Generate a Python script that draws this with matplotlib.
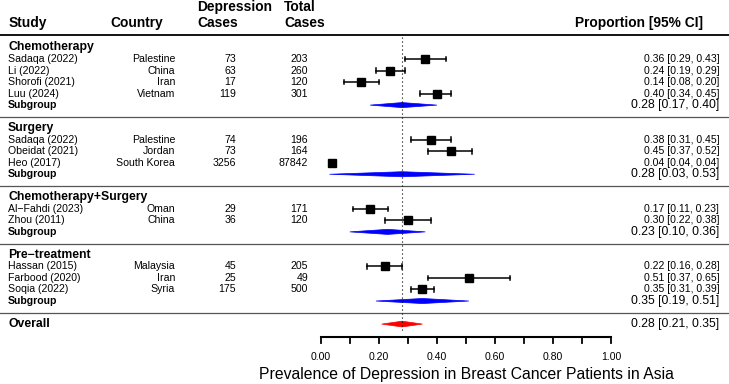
import numpy as np
import matplotlib.pyplot as plt
from matplotlib.patches import Polygon

plt.rcParams['font.family'] = ['Liberation Sans', 'DejaVu Sans']

# Datos del forest plot
grupos = ['Chemotherapy', 'Surgery', 'Chemotherapy+Surgery', 'Pre\u2212treatment']
n_por_grupo = [4, 3, 2, 3]
estudios = ['Sadaqa (2022)', 'Li (2022)', 'Shorofi (2021)', 'Luu (2024)',
            'Sadaqa (2022)', 'Obeidat (2021)', 'Heo (2017)',
            'Al\u2212Fahdi (2023)', 'Zhou (2011)',
            'Hassan (2015)', 'Farbood (2020)', 'Soqia (2022)']
paises = ['Palestine', 'China', 'Iran', 'Vietnam',
          'Palestine', 'Jordan', 'South Korea',
          'Oman', 'China',
          'Malaysia', 'Iran', 'Syria']
casos = [73, 63, 17, 119, 74, 73, 3256, 29, 36, 45, 25, 175]
totales = [203, 260, 120, 301, 196, 164, 87842, 171, 120, 205, 49, 500]
est = [0.36, 0.24, 0.14, 0.40, 0.38, 0.45, 0.04, 0.17, 0.30, 0.22, 0.51, 0.35]
lo = [0.29, 0.19, 0.08, 0.34, 0.31, 0.37, 0.04, 0.11, 0.22, 0.16, 0.37, 0.31]
hi = [0.43, 0.29, 0.20, 0.45, 0.45, 0.52, 0.04, 0.23, 0.38, 0.28, 0.65, 0.39]
sub_est = [0.28, 0.28, 0.23, 0.35]
sub_lo = [0.17, 0.03, 0.10, 0.19]
sub_hi = [0.40, 0.53, 0.36, 0.51]
overall = (0.28, 0.21, 0.35)

fig = plt.figure(figsize=(7.29, 3.84), dpi=100)
ax = fig.add_axes([0, 0, 1, 1])
ax.axis('off')
ax.set_xlim(-1.105, 1.406)
ax.set_ylim(29.2, -4.12)

# columnas (en unidades del eje x)
x_study = -1.077
x_country = -0.502
x_cases = -0.292
x_total = -0.044
x_prop = 1.372

fs = 7.6
fs_head = 9.9
fs_group = 8.8
fs_sum = 8.7


def diamante(c, l, h, y, color, hh=0.22):
    ax.add_patch(Polygon([(l, y), (c, y - hh), (h, y), (c, y + hh)],
                         closed=True, facecolor=color, edgecolor=color, lw=0.5))


# encabezados
ax.text(x_study, -2.13, 'Study', fontsize=fs_head, fontweight='bold', va='center')
ax.text(-0.726, -2.13, 'Country', fontsize=fs_head, fontweight='bold', va='center')
ax.text(-0.426, -3.52, 'Depression', fontsize=fs_head, fontweight='bold', va='center')
ax.text(-0.426, -2.13, 'Cases', fontsize=fs_head, fontweight='bold', va='center')
ax.text(-0.126, -3.52, 'Total', fontsize=fs_head, fontweight='bold', va='center')
ax.text(-0.126, -2.13, 'Cases', fontsize=fs_head, fontweight='bold', va='center')
ax.text(1.317, -2.13, 'Proportion [95% CI]', fontsize=fs_head, fontweight='bold',
        va='center', ha='right')
ax.plot([-1.105, 1.406], [-1.08, -1.08], color='black', lw=1.3, solid_capstyle='butt')

fila = 0
k = 0
for g, nombre in enumerate(grupos):
    ax.text(x_study, fila, nombre, fontsize=fs_group, fontweight='bold', va='center')
    for j in range(n_por_grupo[g]):
        y = fila + 1 + j
        ax.text(x_study, y, estudios[k], fontsize=fs, va='center')
        ax.text(x_country, y, paises[k], fontsize=fs, va='center', ha='right')
        ax.text(x_cases, y, str(casos[k]), fontsize=fs, va='center', ha='right')
        ax.text(x_total, y, str(totales[k]), fontsize=fs, va='center', ha='right')
        ax.text(x_prop, y, f'{est[k]:.2f} [{lo[k]:.2f}, {hi[k]:.2f}]',
                fontsize=fs, va='center', ha='right')
        if hi[k] > lo[k]:
            ax.plot([lo[k], hi[k]], [y, y], color='black', lw=1.1)
            ax.plot([lo[k], lo[k]], [y - 0.2, y + 0.2], color='black', lw=1.1)
            ax.plot([hi[k], hi[k]], [y - 0.2, y + 0.2], color='black', lw=1.1)
        ax.plot(est[k], y, marker='s', color='black', markersize=5.6, ls='none')
        k += 1
    ys = fila + n_por_grupo[g] + 1
    ax.text(x_study, ys, 'Subgroup', fontsize=fs, fontweight='bold', va='center')
    diamante(sub_est[g], sub_lo[g], sub_hi[g], ys, '#0000ff')
    ax.text(x_prop, ys, f'{sub_est[g]:.2f} [{sub_lo[g]:.2f}, {sub_hi[g]:.2f}]',
            fontsize=fs_sum, va='center', ha='right')
    sep = ys + 1.03
    ax.plot([-1.105, 1.406], [sep, sep], color='#555555', lw=0.9)
    fila = ys + 2

# total
y_ov = fila
ax.text(x_study, y_ov, 'Overall', fontsize=fs_group, fontweight='bold', va='center')
diamante(overall[0], overall[1], overall[2], y_ov, '#ff0000', hh=0.25)
ax.text(x_prop, y_ov, f'{overall[0]:.2f} [{overall[1]:.2f}, {overall[2]:.2f}]',
        fontsize=fs_sum, va='center', ha='right')

# linea punteada en el efecto global
ax.plot([overall[0], overall[0]], [-0.9, y_ov + 0.7], color='black', lw=0.8,
        ls=(0, (1, 2.6)))

# eje x dibujado a mano
y_eje = 25.16
ticks = np.arange(0, 1.01, 0.1)
ax.plot([0, 1], [y_eje, y_eje], color='black', lw=1.5, solid_capstyle='projecting')
for t in ticks:
    ax.plot([t, t], [y_eje, y_eje + 0.5], color='black', lw=1.3)
for t in np.arange(0, 1.01, 0.2):
    ax.text(t, 26.85, f'{t:.2f}', fontsize=fs, ha='center', va='center')
ax.text(0.5, 28.35, 'Prevalence of Depression in Breast Cancer Patients in Asia',
        fontsize=11.3, ha='center', va='center')

plt.savefig('out.png', dpi=100)
